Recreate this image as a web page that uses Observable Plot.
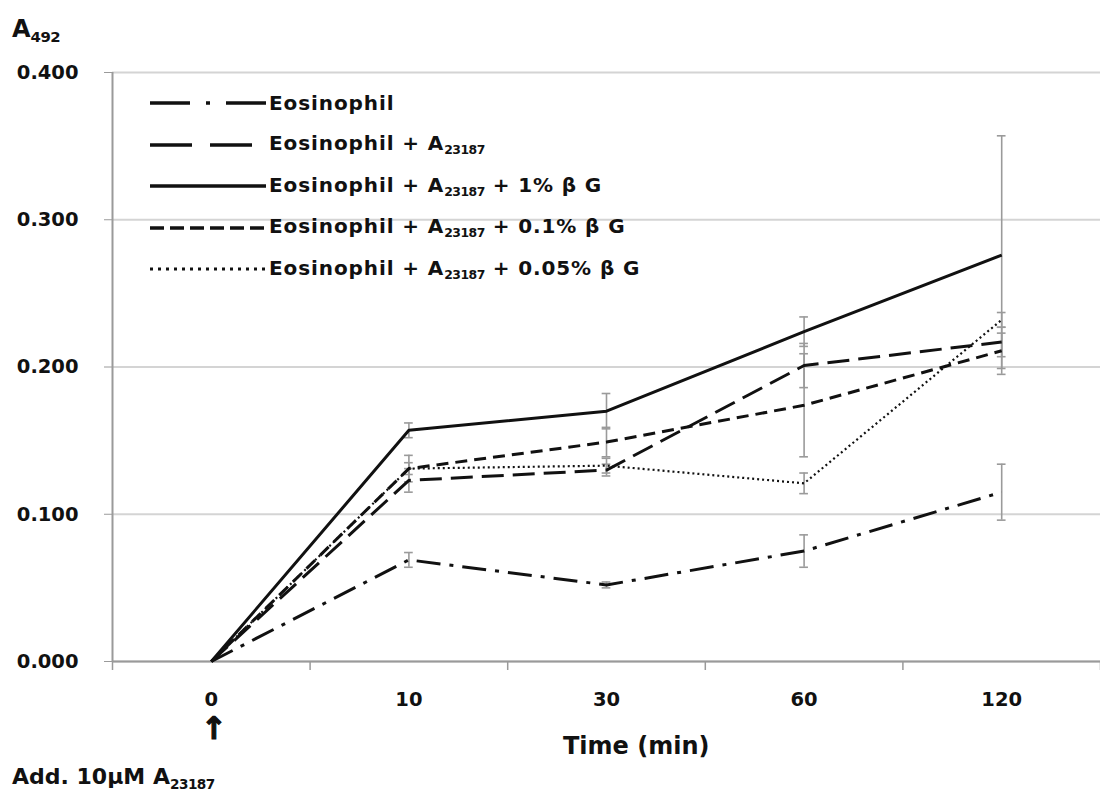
<!DOCTYPE html>
<html>
<head>
<meta charset="utf-8">
<script src="https://cdn.jsdelivr.net/npm/d3@7"></script>
<script src="https://cdn.jsdelivr.net/npm/@observablehq/plot@0.6"></script>
<style>
  html, body { margin: 0; padding: 0; background: #fff; }
  #wrap { position: relative; width: 1100px; height: 796px; font-family: "DejaVu Sans", sans-serif; font-weight: bold; color: #111; }
  .abs { position: absolute; white-space: nowrap; }
  sub { font-size: 0.62em; vertical-align: -0.35em; letter-spacing: -0.5px; }
  .lg-row { position: absolute; left: 0; height: 26px; display: flex; align-items: center; }
  .lg-row span { font-size: 20px; margin-left: 3px; letter-spacing: 0.9px; }
</style>
</head>
<body>
<div id="wrap"></div>
<script>
// ---- data ----
const times = ["0", "10", "30", "60", "120"];
const yTicks = [0, 0.1, 0.2, 0.3, 0.4];

const eos        = [0, 0.069, 0.052, 0.075, 0.115];
const eosErr     = [0, 0.005, 0.002, 0.011, 0.019];
const eosA       = [0, 0.123, 0.130, 0.201, 0.217];
const eosAErr    = [0, 0.008, 0.004, 0.015, 0.010];
const eosA1      = [0, 0.157, 0.170, 0.224, 0.276];
const eosA1Err   = [0, 0.005, 0.012, 0.010, 0.081];
const eosA01     = [0, 0.131, 0.149, 0.174, 0.211];
const eosA01Err  = [0, 0.009, 0.010, 0.035, 0.012];
const eosA005    = [0, 0.131, 0.133, 0.121, 0.232];
const eosA005Err = [0, 0.004, 0.005, 0.007, 0.005];

const seriesNames = [
  "Eosinophil",
  "Eosinophil + A23187",
  "Eosinophil + A23187 + 1% βG",
  "Eosinophil + A23187 + 0.1% βG",
  "Eosinophil + A23187 + 0.05% βG"
];
const seriesValues = [eos, eosA, eosA1, eosA01, eosA005];
const seriesErrors = [eosErr, eosAErr, eosA1Err, eosA01Err, eosA005Err];

// styles
const dashes = ["24,9,4,9", "22,9", null, "12,7", "2,3"];
const widths = [3, 3, 3, 3, 2.2];
const legendDashes = ["40,16,4,16,40", "42,18", null, "14,6", "3,5"];

// ---- build tables ----
const series = seriesNames.map((name, s) =>
  seriesValues[s].map((v, i) => ({name, i, v, lo: v - seriesErrors[s][i], hi: v + seriesErrors[s][i], e: seriesErrors[s][i]}))
);
const errData = series.flat().filter(d => d.e > 0);
const boundaries = times.map((_, i) => i - 0.5).concat([times.length - 0.5]);

const gray = "#9a9a9a";
const plot = Plot.plot({
  width: 1100,
  height: 796,
  marginLeft: 112,
  marginRight: 0,
  marginTop: 72,
  marginBottom: 135,
  style: {fontFamily: "DejaVu Sans, sans-serif", fontWeight: "bold", fontSize: "19px", color: "#111", background: "white"},
  x: {type: "linear", domain: [-0.5, times.length - 0.5]},
  y: {domain: [0, 0.4]},
  marks: [
    Plot.gridY(yTicks, {stroke: "#d4d4d4", strokeOpacity: 1, strokeWidth: 2}),
    Plot.axisY(yTicks, {tickFormat: d3.format(".3f"), tickSize: 8, tickPadding: 26, stroke: gray, label: null, fontSize: 19.5}),
    Plot.axisX(d3.range(times.length), {tickFormat: i => times[i], tickSize: 0, tickPadding: 31, label: null, fontSize: 19.5}),
    Plot.axisX(boundaries, {tickFormat: () => "", tickSize: 9, stroke: gray, strokeWidth: 1.5, label: null}),
    Plot.ruleY([0], {stroke: gray, strokeWidth: 2}),
    Plot.ruleX([-0.5], {stroke: gray, strokeWidth: 2}),
    Plot.ruleX(errData, {x: "i", y1: "lo", y2: "hi", stroke: gray, strokeWidth: 1.6}),
    Plot.ruleY(errData, {y: "hi", x1: d => d.i - 0.022, x2: d => d.i + 0.022, stroke: gray, strokeWidth: 1.6}),
    Plot.ruleY(errData, {y: "lo", x1: d => d.i - 0.022, x2: d => d.i + 0.022, stroke: gray, strokeWidth: 1.6}),
    ...series.map((data, s) =>
      Plot.line(data, {x: "i", y: "v", stroke: "#111", strokeWidth: widths[s], strokeDasharray: dashes[s], strokeLinecap: "butt", strokeLinejoin: "round"})
    )
  ]
});

const wrap = document.getElementById("wrap");
wrap.appendChild(plot);

function addText(html, left, top, size) {
  const d = document.createElement("div");
  d.className = "abs";
  d.style.left = left + "px";
  d.style.top = top + "px";
  d.style.fontSize = size + "px";
  d.style.lineHeight = "1";
  d.innerHTML = html;
  wrap.appendChild(d);
  return d;
}

// axis titles & annotations
addText("A<sub>492</sub>", 12, 17, 24);
addText("Time (min)", 563, 734, 24);
const arrow = addText("↑", 201, 713, 31);
arrow.style.webkitTextStroke = "1.2px #111";
addText("Add. 10μM A<sub>23187</sub>", 12, 766, 22);

// legend
const legendLabels = [
  "Eosinophil",
  "Eosinophil + A<sub>23187</sub>",
  "Eosinophil + A<sub>23187</sub> + 1% β G",
  "Eosinophil + A<sub>23187</sub> + 0.1% β G",
  "Eosinophil + A<sub>23187</sub> + 0.05% β G"
];
const legend = document.createElement("div");
legend.className = "abs";
legend.style.left = "150px";
legend.style.top = "90px";
wrap.appendChild(legend);
legendLabels.forEach((lab, s) => {
  const row = document.createElement("div");
  row.className = "lg-row";
  row.style.top = (s * 41.5) + "px";
  const svg = d3.create("svg").attr("width", 116).attr("height", 24);
  svg.append("line").attr("x1", 0).attr("x2", 116).attr("y1", 12).attr("y2", 12)
    .attr("stroke", "#111").attr("stroke-width", s === 4 ? 3 : 3.5)
    .attr("stroke-dasharray", legendDashes[s]);
  row.appendChild(svg.node());
  const sp = document.createElement("span");
  sp.innerHTML = lab;
  row.appendChild(sp);
  legend.appendChild(row);
});
</script>
</body>
</html>
